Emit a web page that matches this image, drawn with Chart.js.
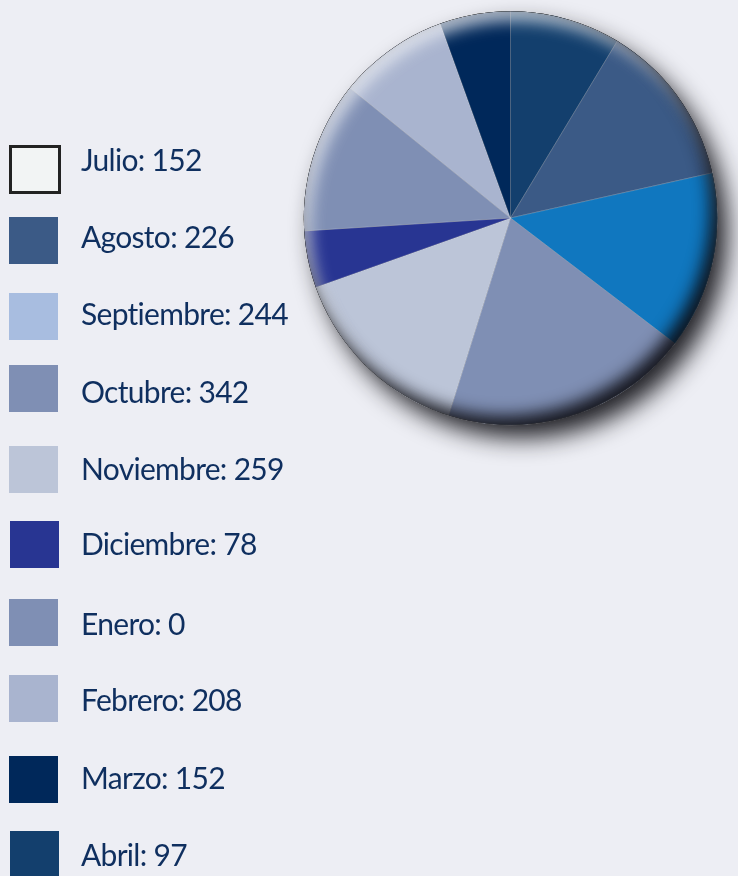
<!DOCTYPE html>
<html>
<head>
<meta charset="utf-8">
<script src="https://cdn.jsdelivr.net/npm/chart.js@4/dist/chart.umd.min.js"></script>
<style>
  html, body { margin: 0; padding: 0; background: #edeef4; }
  #wrap { position: relative; width: 738px; height: 876px; overflow: hidden; background: #edeef4; }
  #c { position: absolute; left: 0; top: 0; }
  .box { position: absolute; width: 49px; height: 47px; box-sizing: border-box; }
  .lbl { position: absolute; left: 81px; font-family: Lato, "Open Sans", sans-serif; font-size: 30px; letter-spacing: -0.7px; color: #0f2f5f; white-space: nowrap; line-height: 1; }
</style>
</head>
<body>
<div id="wrap">
  <canvas id="c" width="738" height="876"></canvas>
</div>
<script>
// ---- data ----
const categories = ['Julio', 'Agosto', 'Septiembre', 'Octubre', 'Noviembre', 'Diciembre', 'Enero', 'Febrero', 'Marzo', 'Abril'];
const values = [152, 226, 244, 342, 259, 78, 0, 208, 152, 97];

// ---- styles ----
const legendColors = ['#f2f4f4', '#3b5a86', '#a8bde0', '#7f8fb4', '#bcc5d8', '#283592', '#7f8fb4', '#a9b4cf', '#00285a', '#133f6d'];
const sliceColors  = ['#133f6d', '#3b5a86', '#1077bf', '#7f8fb4', '#bcc5d8', '#283592', '#7f8fb4', '#7f8fb4', '#a9b4cf', '#00285a'];
const legendBoxTops = [145, 217, 293, 365, 446, 521, 599, 675, 756, 831];
const legendBaselines = [169, 246, 323, 401, 478, 553, 633, 709, 787, 864];

// ---- HTML legend ----
const wrap = document.getElementById('wrap');
categories.forEach((cat, i) => {
  const b = document.createElement('div');
  b.className = 'box';
  b.style.left = (i === 5 || i === 9 ? 10 : 9) + 'px';
  b.style.top = legendBoxTops[i] + 'px';
  b.style.background = legendColors[i];
  if (i === 0) { b.style.border = '3px solid #222'; b.style.width = '52px'; b.style.height = '49px'; }
  wrap.appendChild(b);
  const t = document.createElement('div');
  t.className = 'lbl';
  t.textContent = cat + ': ' + values[i];
  wrap.appendChild(t);
  t.style.top = (legendBaselines[i] - 25) + 'px';
});

// ---- pie effects ----
const shadowPlugin = {
  id: 'pieShadow',
  beforeDatasetsDraw(chart) {
    const arc = chart.getDatasetMeta(0).data[0];
    if (!arc) return;
    const { x, y, outerRadius } = arc.getProps(['x', 'y', 'outerRadius'], true);
    const ctx = chart.ctx;
    ctx.save();
    ctx.shadowColor = 'rgba(20,20,25,0.95)';
    ctx.shadowBlur = 24;
    ctx.shadowOffsetX = 11;
    ctx.shadowOffsetY = 14;
    ctx.beginPath();
    ctx.arc(x, y, outerRadius - 1, 0, Math.PI * 2);
    ctx.fillStyle = '#333';
    ctx.fill();
    ctx.restore();
  },
  afterDatasetsDraw(chart) {
    const arc = chart.getDatasetMeta(0).data[0];
    if (!arc) return;
    const { x, y, outerRadius } = arc.getProps(['x', 'y', 'outerRadius'], true);
    const ctx = chart.ctx;
    const inner = (color, ox, oy, blur) => {
      ctx.save();
      ctx.beginPath();
      ctx.arc(x, y, outerRadius, 0, Math.PI * 2);
      ctx.clip();
      ctx.beginPath();
      ctx.rect(x - outerRadius - 200, y - outerRadius - 200, outerRadius * 2 + 400, outerRadius * 2 + 400);
      ctx.arc(x, y, outerRadius, 0, Math.PI * 2, true);
      ctx.shadowColor = color;
      ctx.shadowBlur = blur;
      ctx.shadowOffsetX = ox;
      ctx.shadowOffsetY = oy;
      ctx.fillStyle = '#000';
      ctx.fill('evenodd');
      ctx.restore();
    };
    inner('rgba(235,237,242,0.8)', 6, 9, 16);
    inner('rgba(10,10,15,0.9)', -7, -9, 16);
  }
};

new Chart(document.getElementById('c'), {
  type: 'pie',
  data: {
    labels: categories,
    datasets: [{
      data: values,
      backgroundColor: sliceColors,
      borderColor: 'rgba(255,255,255,0.3)',
      borderWidth: 0.6
    }]
  },
  options: {
    responsive: false,
    animation: false,
    events: [],
    layout: { padding: { left: 303.5, right: 20.5, top: 11, bottom: 451 } },
    plugins: { legend: { display: false }, tooltip: { enabled: false } }
  },
  plugins: [shadowPlugin]
});
</script>
</body>
</html>
